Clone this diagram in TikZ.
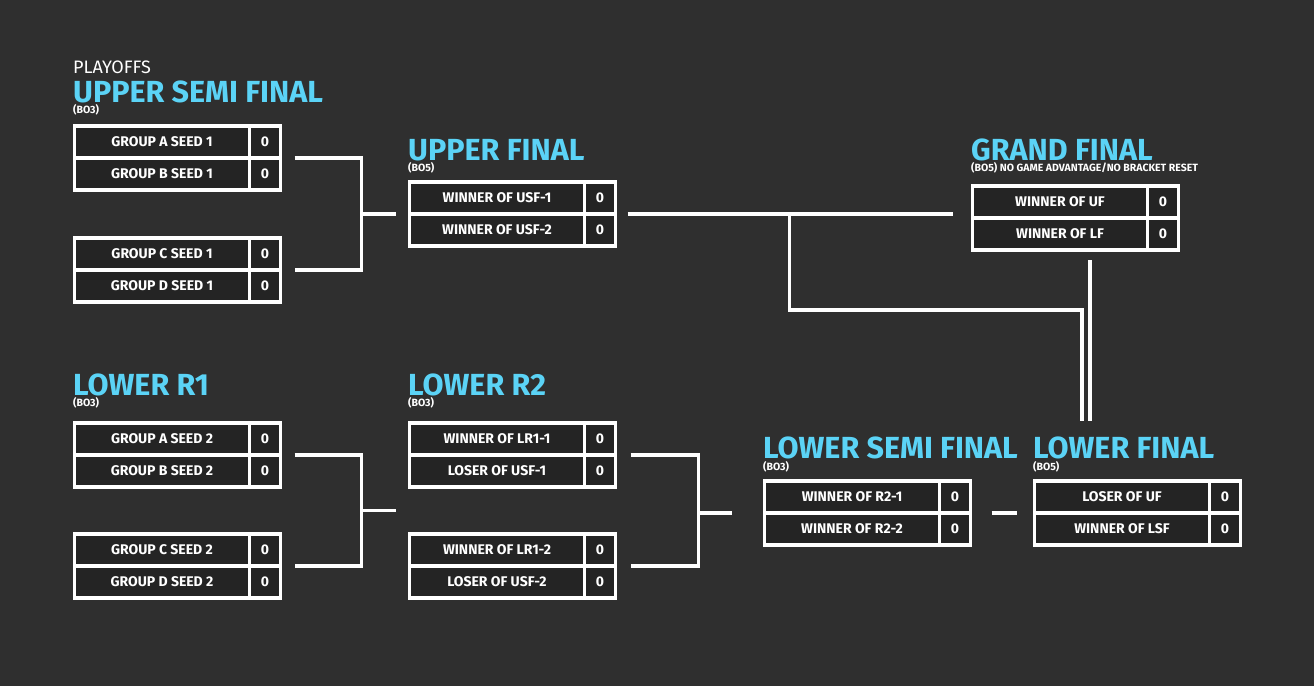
\documentclass[tikz,border=0pt]{standalone}
\usepackage{fontspec}
\setmainfont{Fira Sans}
\usetikzlibrary{positioning}
\usetikzlibrary{calc}

\definecolor{bracketbg}{HTML}{2F2F2F}
\definecolor{cellbg}{HTML}{242424}
\definecolor{titleblue}{HTML}{5BD3F6}

\tikzset{
  team/.style={draw=white, line width=3.6pt, fill=cellbg, minimum width=175pt,
    minimum height=32pt, inner sep=0pt, outer sep=0pt, text=white,
    font=\bfseries\fontsize{14}{16}\selectfont},
  score/.style={team, minimum width=31pt},
  link/.style={draw=white, line width=3.4pt},
  title/.style={anchor=base west, inner sep=0pt, text=titleblue,
    font=\bfseries\fontsize{30.5}{32}\selectfont},
  bestof/.style={anchor=base west, inner sep=0pt, text=white,
    font=\bfseries\fontsize{10.5}{12}\selectfont},
}

\begin{document}
\begin{tikzpicture}[x=1pt,y=-1pt,node distance=32pt and 103pt,on grid]
        \fill[bracketbg] (0,0) rectangle (1314,686);
        \useasboundingbox (0,0) rectangle (1314,686);

        % headings
        \node[title, text=white, font=\fontsize{18}{20}\selectfont] (playoffs) at (73,73) {PLAYOFFS};
        \node[title] (usf_title) at (73,102) {UPPER SEMI FINAL};
        \node[bestof] (usf_bo) at (73,113) {(BO3)};
        \node[title] (uf_title) at (408,160.5) {UPPER FINAL};
        \node[bestof] (uf_bo) at (408,171) {(BO5)};
        \node[title] (gf_title) at (971,160.5) {GRAND FINAL};
        \node[bestof] (gf_bo) at (971,171) {(BO5) NO GAME ADVANTAGE/NO BRACKET RESET};
        \node[title] (lr1_title) at (73,395) {LOWER R1};
        \node[bestof] (lr1_bo) at (73,406) {(BO3)};
        \node[title] (lr2_title) at (408,395) {LOWER R2};
        \node[bestof] (lr2_bo) at (408,406) {(BO3)};
        \node[title] (lsf_title) at (763,458) {LOWER SEMI FINAL};
        \node[bestof] (lsf_bo) at (763,470.5) {(BO3)};
        \node[title] (lf_title) at (1033,458) {LOWER FINAL};
        \node[bestof] (lf_bo) at (1033,470.5) {(BO5)};

        % upper semi final
        \node[team] (usf1_1) at (162,142) {GROUP A SEED 1};
        \node[score] (usf1_1s) [right=of usf1_1] {0};
        \node[team] (usf1_2) [below=of usf1_1] {GROUP B SEED 1};
        \node[score] (usf1_2s) [right=of usf1_2] {0};
        \node[team] (usf2_1) at (162,254) {GROUP C SEED 1};
        \node[score] (usf2_1s) [right=of usf2_1] {0};
        \node[team] (usf2_2) [below=of usf2_1] {GROUP D SEED 1};
        \node[score] (usf2_2s) [right=of usf2_2] {0};

        % upper final
        \node[team] (uf_1) at (497,198) {WINNER OF USF-1};
        \node[score] (uf_1s) [right=of uf_1] {0};
        \node[team] (uf_2) [below=of uf_1] {WINNER OF USF-2};
        \node[score] (uf_2s) [right=of uf_2] {0};

        % grand final
        \node[team] (gf_1) at (1060,202) {WINNER OF UF};
        \node[score] (gf_1s) [right=of gf_1] {0};
        \node[team] (gf_2) [below=of gf_1] {WINNER OF LF};
        \node[score] (gf_2s) [right=of gf_2] {0};

        % lower r1
        \node[team] (lr1a_1) at (162,439) {GROUP A SEED 2};
        \node[score] (lr1a_1s) [right=of lr1a_1] {0};
        \node[team] (lr1a_2) [below=of lr1a_1] {GROUP B SEED 2};
        \node[score] (lr1a_2s) [right=of lr1a_2] {0};
        \node[team] (lr1b_1) at (162,550) {GROUP C SEED 2};
        \node[score] (lr1b_1s) [right=of lr1b_1] {0};
        \node[team] (lr1b_2) [below=of lr1b_1] {GROUP D SEED 2};
        \node[score] (lr1b_2s) [right=of lr1b_2] {0};

        % lower r2
        \node[team] (lr2a_1) at (497,439) {WINNER OF LR1-1};
        \node[score] (lr2a_1s) [right=of lr2a_1] {0};
        \node[team] (lr2a_2) [below=of lr2a_1] {LOSER OF USF-1};
        \node[score] (lr2a_2s) [right=of lr2a_2] {0};
        \node[team] (lr2b_1) at (497,550) {WINNER OF LR1-2};
        \node[score] (lr2b_1s) [right=of lr2b_1] {0};
        \node[team] (lr2b_2) [below=of lr2b_1] {LOSER OF USF-2};
        \node[score] (lr2b_2s) [right=of lr2b_2] {0};

        % lower semi final and lower final
        \node[team] (lsf_1) at (852,497) {WINNER OF R2-1};
        \node[score] (lsf_1s) [right=of lsf_1] {0};
        \node[team] (lsf_2) [below=of lsf_1] {WINNER OF R2-2};
        \node[score] (lsf_2s) [right=of lsf_2] {0};
        \node[team] (lf_1) at (1122,497) {LOSER OF UF};
        \node[score] (lf_1s) [right=of lf_1] {0};
        \node[team] (lf_2) [below=of lf_1] {WINNER OF LSF};
        \node[score] (lf_2s) [right=of lf_2] {0};

        % connectors
        \coordinate (uf_split) at ($(uf_1s.south east)+(174,0)$);
        \coordinate (lf_bend) at (1082,310);
        \coordinate (lf_feed) at (1082,421);
        \coordinate (gf_feed) at (1090,421);
        \coordinate (lr1_join) at ($(lr1a_1s.south east)!0.5!(lr1b_1s.south east)$);

        \draw[link] ([xshift=14pt]usf1_1s.south east) -| ([xshift=81pt]usf2_1s.south east) -- ([xshift=14pt]usf2_1s.south east);
        \draw[link] ($(usf2_1s.south east |- uf_1.south west)+(81,0)$) -- ($(uf_1.south west)+(-14,0)$);
        \draw[link] ([xshift=12pt]uf_1s.south east) -- ($(gf_1.west |- uf_1.south)+(-20,0)$);
        \draw[link] (uf_split) |- (lf_bend) -- (lf_feed);
        \draw[link] ($(gf_feed |- gf_2.south)+(0,10)$) -- (gf_feed);
        \draw[link] ([xshift=14pt]lr1a_1s.south east) -| ([xshift=81pt]lr1b_1s.south east) -- ([xshift=14pt]lr1b_1s.south east);
        \draw[link] ($(lr1_join)+(81,0)$) -- ($(lr1_join -| lr2a_1.west)+(-14,0)$);
        \draw[link] ([xshift=15pt]lr2a_1s.south east) -| ([xshift=83pt]lr2b_1s.south east) -- ([xshift=15pt]lr2b_1s.south east);
        \draw[link] ($(lr2b_1s.south east |- lsf_1.south)+(83,0)$) -- ($(lsf_1.south west)+(-33,0)$);
        \draw[link] ($(lsf_1s.south east)+(21,0)$) -- ($(lf_1.south west)+(-18,0)$);
    \end{tikzpicture}
\end{document}
